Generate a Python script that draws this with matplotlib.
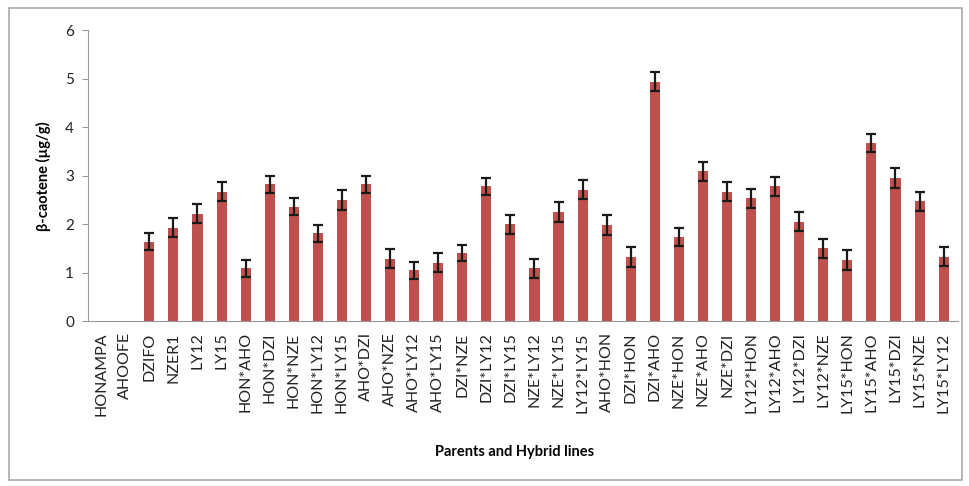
import matplotlib.pyplot as plt
from matplotlib.patches import Rectangle

lines = ['HONAMPA', 'AHOOFE', 'DZIFO', 'NZER1', 'LY12', 'LY15',
         'HON*AHO', 'HON*DZI', 'HON*NZE', 'HON*LY12', 'HON*LY15',
         'AHO*DZI', 'AHO*NZE', 'AHO*LY12', 'AHO*LY15',
         'DZI*NZE', 'DZI*LY12', 'DZI*LY15',
         'NZE*LY12', 'NZE*LY15', 'LY12*LY15',
         'AHO*HON', 'DZI*HON', 'DZI*AHO',
         'NZE*HON', 'NZE*AHO', 'NZE*DZI',
         'LY12*HON', 'LY12*AHO', 'LY12*DZI', 'LY12*NZE',
         'LY15*HON', 'LY15*AHO', 'LY15*DZI', 'LY15*NZE', 'LY15*LY12']

beta_carotene = [0, 0, 1.64, 1.93, 2.22, 2.67,
                 1.09, 2.82, 2.36, 1.81, 2.50,
                 2.82, 1.29, 1.05, 1.21,
                 1.41, 2.78, 2.00,
                 1.09, 2.25, 2.71,
                 1.98, 1.33, 4.94,
                 1.74, 3.09, 2.67,
                 2.53, 2.78, 2.05, 1.50,
                 1.26, 3.67, 2.95, 2.47, 1.33]

std_err = [0, 0, 0.17, 0.19, 0.2, 0.19,
           0.18, 0.18, 0.17, 0.18, 0.2,
           0.18, 0.2, 0.18, 0.19,
           0.17, 0.18, 0.2,
           0.2, 0.2, 0.2,
           0.21, 0.21, 0.2,
           0.19, 0.19, 0.2,
           0.2, 0.2, 0.2, 0.19,
           0.2, 0.19, 0.2, 0.19, 0.2]

plt.rcParams['font.family'] = ['Lato', 'DejaVu Sans']

fig = plt.figure(figsize=(9.7, 4.86), dpi=100)
ax = fig.add_axes([0.0907, 0.339, 0.897, 0.599])

x = list(range(len(lines)))
ax.bar(x, beta_carotene, width=0.42, color='#C0504D', zorder=2)
for xi, v, e in zip(x, beta_carotene, std_err):
    if v > 0:
        ax.errorbar(xi, v, yerr=e, fmt='none', ecolor='#1a1a1a',
                    elinewidth=1.6, capsize=3.5, capthick=1.6, zorder=3)

ax.set_xlim(-0.55, len(lines) - 0.4)
ax.set_ylim(0, 6)
ax.set_yticks(range(0, 7))
ax.set_xticks(x)
ax.set_xticklabels(lines, rotation=90, fontsize=11.5, color='#222222')
ax.tick_params(axis='x', length=0, pad=8)
ax.tick_params(axis='y', length=4, color='#999999', labelsize=11,
               labelcolor='#222222', pad=6)

for side in ['top', 'right']:
    ax.spines[side].set_visible(False)
ax.spines['left'].set_color('#999999')
ax.spines['bottom'].set_color('#999999')

ax.set_ylabel('β-caotene (µg/g)', fontsize=10.5, fontweight='bold', labelpad=10)
fig.text(0.53, 0.062, 'Parents and Hybrid lines', ha='center', fontsize=10.5,
         fontweight='bold')

fig.patches.append(Rectangle((0.009, 0.012), 0.983, 0.972,
                             transform=fig.transFigure, fill=False,
                             edgecolor='#aaaaaa', linewidth=1.2))

fig.savefig('out.png')
